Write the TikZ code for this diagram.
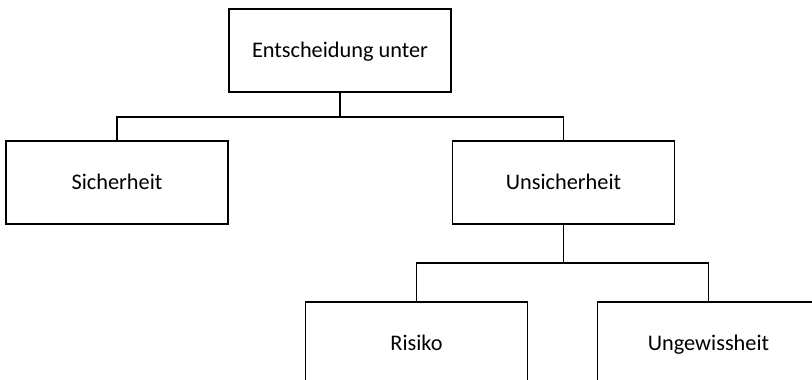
\documentclass[tikz,border=0pt]{standalone}
\usepackage{fontspec}
\setmainfont{Carlito}
\usepackage{tikz}

\tikzset{box/.style={draw, line width=1.5pt, minimum width=222pt, minimum height=83pt, inner sep=0pt, text height=14.8pt, text depth=0pt, font=\fontsize{22.3}{26}\selectfont}}

\begin{document}
\begin{tikzpicture}[x=1pt, y=-1pt, line width=1.5pt]
        \useasboundingbox (0, 0) rectangle (812, 380);
        \clip (0, 0) rectangle (812, 380);

        \node[box] (entsch) at (340, 50.5) {Entscheidung unter};
        \node[box] (sicher) at (117, 182.5) {Sicherheit};
        \node[box] (unsicher) at (563.5, 182.5) {Unsicherheit};
        \node[box] (risiko) at (416.5, 343.5) {Risiko};
        \node[box] (ungewiss) at (708.5, 343.5) {Ungewissheit};

        \coordinate (bus1) at (340, 117);
        \coordinate (bus2) at (563.5, 263);

        \draw (entsch.south) -- (bus1);
        \draw (sicher.north) |- (bus1) -| (unsicher.north);
        \draw (unsicher.south) -- (bus2);
        \draw (risiko.north) |- (bus2) -| (ungewiss.north);
    \end{tikzpicture}
\end{document}
